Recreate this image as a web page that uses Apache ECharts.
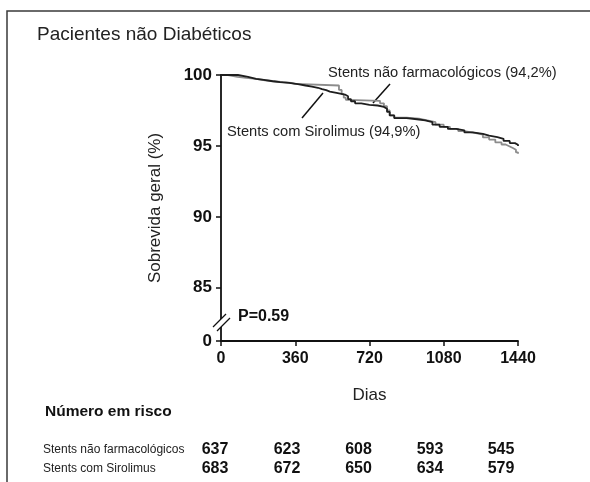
<!DOCTYPE html>
<html>
<head>
<meta charset="utf-8">
<script src="https://cdn.jsdelivr.net/npm/echarts@6/dist/echarts.min.js"></script>
<style>
html,body{margin:0;padding:0;background:#fff;}
#chart{width:590px;height:482px;}
</style>
</head>
<body>
<div id="chart"></div>
<script>
// ---- data ----
const xTicks = [0, 360, 720, 1080, 1440];
const yTickValues = [81.25, 85, 90, 95, 100];
const yTickLabels = ['0', '85', '90', '95', '100'];

const sirolimus = [
  [0,100],[82,99.87],[131,99.73],[170,99.65],[208,99.56],[250,99.5],[286,99.45],
  [330,99.36],[373,99.26],[410,99.18],[441,99.1],[470,99.0],[490,98.93],[510,98.83],
  [528,98.74],[560,98.62],[601,98.5],[616,98.3],[630,98.15],[650,98.0],[680,97.9],
  [720,97.85],[760,97.75],[790,97.62],[805,97.4],[818,97.15],[840,96.96],[900,96.88],
  [950,96.8],[990,96.68],[1025,96.5],[1060,96.35],[1100,96.2],[1140,96.1],[1180,95.95],
  [1220,95.85],[1270,95.72],[1300,95.62],[1340,95.5],[1370,95.35],[1400,95.2],
  [1425,95.08],[1440,95.0]
];
const naoFarmacologicos = [
  [0,100],[34,99.87],[80,99.8],[121,99.73],[170,99.63],[213,99.56],[260,99.5],
  [300,99.45],[340,99.38],[359,99.26],[572,98.95],[585,98.65],[595,98.4],[605,98.25],
  [616,98.18],[771,98.0],[790,97.8],[805,97.5],[818,97.15],[840,97.0],[900,96.92],
  [960,96.8],[1000,96.68],[1040,96.5],[1080,96.35],[1110,96.2],[1150,96.05],
  [1180,95.92],[1230,95.8],[1270,95.6],[1300,95.45],[1330,95.25],[1360,95.1],
  [1380,94.96],[1400,94.85],[1415,94.73],[1430,94.55],[1440,94.45]
];

const riskRowLabels = ['Stents não farmacológicos', 'Stents com Sirolimus'];
const riskNaoFarm = [637, 623, 608, 593, 545];
const riskSirolimus = [683, 672, 650, 634, 579];

const titleText = 'Pacientes não Diabéticos';
const labelNaoFarm = 'Stents não farmacológicos (94,2%)';
const labelSirolimus = 'Stents com Sirolimus (94,9%)';
const pText = 'P=0.59';

// ---- layout / style ----
const FONT = '"Liberation Sans", Arial, sans-serif';
const tableX = [215, 287, 358.5, 430, 501];
const tableRowY = [450, 469];

const chart = echarts.init(document.getElementById('chart'), null, {renderer: 'canvas'});

const graphics = [
  {type:'rect', shape:{x:7, y:11, width:640, height:520}, style:{fill:null, stroke:'#3a3a3a', lineWidth:1.5}, silent:true},
  {type:'text', left:37, top:25, style:{text:titleText, font:'19px ' + FONT, fill:'#222'}},
  {type:'text', left:328, top:65, style:{text:labelNaoFarm, font:'14.7px ' + FONT, fill:'#222'}},
  {type:'line', shape:{x1:390, y1:84, x2:373, y2:103}, style:{stroke:'#111', lineWidth:1.5}},
  {type:'text', left:227, top:124, style:{text:labelSirolimus, font:'14.7px ' + FONT, fill:'#222'}},
  {type:'line', shape:{x1:302, y1:118, x2:323, y2:93}, style:{stroke:'#111', lineWidth:1.5}},
  {type:'text', left:238, top:309, style:{text:pText, font:'bold 16px ' + FONT, fill:'#111'}},
  // axis break
  {type:'rect', shape:{x:217, y:319, width:9, height:8}, style:{fill:'#fff'}, z:100},
  {type:'line', shape:{x1:213, y1:327, x2:226, y2:314}, style:{stroke:'#111', lineWidth:1.3}, z:101},
  {type:'line', shape:{x1:217, y1:331, x2:230, y2:318}, style:{stroke:'#111', lineWidth:1.3}, z:101},
  {type:'text', left:45, top:404, style:{text:'Número em risco', font:'bold 15.5px ' + FONT, fill:'#111'}}
];
riskRowLabels.forEach((lab, r) => {
  graphics.push({type:'text', x:43, y:tableRowY[r], style:{text:lab, font:'12px ' + FONT, fill:'#222', textVerticalAlign:'middle'}});
});
[riskNaoFarm, riskSirolimus].forEach((row, r) => {
  row.forEach((v, i) => {
    graphics.push({type:'text', x:tableX[i], y:tableRowY[r], style:{text:String(v), font:'bold 16px ' + FONT, fill:'#111', textAlign:'center', textVerticalAlign:'middle'}});
  });
});

chart.setOption({
  animation:false,
  backgroundColor:'#fff',
  grid:{left:221, right:72, top:75, bottom:141, containLabel:false},
  xAxis:{
    type:'value', min:0, max:1440, interval:360,
    name:'Dias', nameLocation:'middle', nameGap:46,
    nameTextStyle:{fontFamily:FONT, fontSize:17, color:'#222'},
    axisLine:{show:true, onZero:false, lineStyle:{color:'#111', width:1.8}},
    axisTick:{show:true, length:5, lineStyle:{color:'#111', width:1.5}},
    axisLabel:{fontFamily:FONT, fontSize:16, fontWeight:'bold', color:'#111', margin:10,
      formatter:function(v){ return String(v); }},
    splitLine:{show:false}
  },
  yAxis:{
    type:'value', min:81.25, max:100,
    name:'Sobrevida geral (%)', nameLocation:'middle', nameGap:57,
    nameTextStyle:{fontFamily:FONT, fontSize:17, color:'#222'},
    axisLine:{show:true, onZero:false, lineStyle:{color:'#111', width:1.8}},
    axisTick:{show:true, length:5, customValues:yTickValues, lineStyle:{color:'#111', width:1.5}},
    axisLabel:{customValues:yTickValues, fontFamily:FONT, fontSize:17, fontWeight:'bold', color:'#111', margin:9,
      formatter:function(v){ const i = yTickValues.indexOf(v); return i >= 0 ? yTickLabels[i] : ''; }},
    splitLine:{show:false}
  },
  series:[
    {name:'Stents não farmacológicos', type:'line', step:'end', data:naoFarmacologicos, showSymbol:false,
     lineStyle:{color:'#8c8c8c', width:1.8}, z:2},
    {name:'Stents com Sirolimus', type:'line', step:'end', data:sirolimus, showSymbol:false,
     lineStyle:{color:'#1e1e1e', width:1.8}, z:3}
  ],
  graphic:graphics
});
</script>
</body>
</html>
